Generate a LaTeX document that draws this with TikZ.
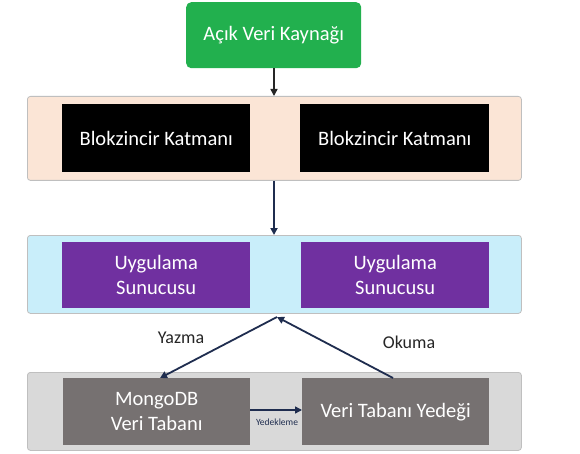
\documentclass[tikz,border=0pt]{standalone}
\usepackage{fontspec}
\setmainfont{Carlito}
\usetikzlibrary{arrows.meta}
\definecolor{srcgreen}{HTML}{22B04E}
\definecolor{peach}{HTML}{FBE5D6}
\definecolor{skyband}{HTML}{C9EEFA}
\definecolor{greyband}{HTML}{D9D9D9}
\definecolor{appviolet}{HTML}{7030A0}
\definecolor{dbgrey}{HTML}{767171}
\definecolor{arrowblue}{HTML}{1F2D4F}
\tikzset{
  band/.style={draw=black!25, line width=0.8pt, rounded corners=3pt, anchor=north west, inner sep=0pt},
  unit/.style={anchor=north west, inner sep=0pt, text=white, align=center, font=\fontsize{20.5}{25}\selectfont},
  flow/.style={-{Triangle[length=7pt,width=7pt]}, line width=1.8pt, draw=arrowblue},
  tag/.style={font=\fontsize{18}{20}\selectfont, text=black!85}
}
\begin{document}
\begin{tikzpicture}[x=1pt,y=-1pt]
\useasboundingbox (0,0) rectangle (580,454);
\fill[white] (0,0) rectangle (580,454);

% source
\node[unit, fill=srcgreen, rounded corners=5pt, minimum width=175pt, minimum height=66pt] (src) at (186,2) {Açık Veri Kaynağı};

% blockchain layer
\node[band, fill=peach, minimum width=494pt, minimum height=84pt] (chain) at (27,96) {};
\node[unit, fill=black, minimum width=188pt, minimum height=68pt] (bc1) at (62,104) {Blokzincir Katmanı};
\node[unit, fill=black, minimum width=189pt, minimum height=68pt] (bc2) at (300,104) {Blokzincir Katmanı};

% application layer
\node[band, fill=skyband, minimum width=494pt, minimum height=78pt] (app) at (27,235) {};
\node[unit, fill=appviolet, minimum width=188pt, minimum height=66pt] (as1) at (62,242) {Uygulama\\Sunucusu};
\node[unit, fill=appviolet, minimum width=188pt, minimum height=66pt] (as2) at (301,242) {Uygulama\\Sunucusu};

% storage layer
\node[band, fill=greyband, minimum width=494pt, minimum height=78pt] (store) at (27,372) {};
% backup edge label sits under the boxes
\node[font=\fontsize{9.5}{10}\selectfont, text=arrowblue, inner sep=0pt] (lc) at (277,422) {Yedekleme};
\node[unit, fill=dbgrey, minimum width=187pt, minimum height=67pt] (db) at (63,378) {MongoDB\\Veri Tabanı};
\node[unit, fill=dbgrey, minimum width=187pt, minimum height=67pt] (bk) at (302,378) {Veri Tabanı Yedeği};

% connectors
\coordinate (hub) at (277,317);
\draw[flow, line width=1.5pt, draw=black!85] (src.south -| 274,0) -- (chain.north -| 274,0);
\draw[flow] (chain.south -| 274,0) -- (app.north -| 274,0);
\draw[flow] (hub) -- (db.north -| 160,0);
\draw[flow] (bk.north -| 393,0) -- (hub);
\draw[flow, line width=1.5pt] (db.east |- 0,410) -- (bk.west |- 0,410);

% labels
\node[tag] (lw) at (181,338) {Yazma};
\node[tag] (lr) at (409,342) {Okuma};
\end{tikzpicture}
\end{document}
